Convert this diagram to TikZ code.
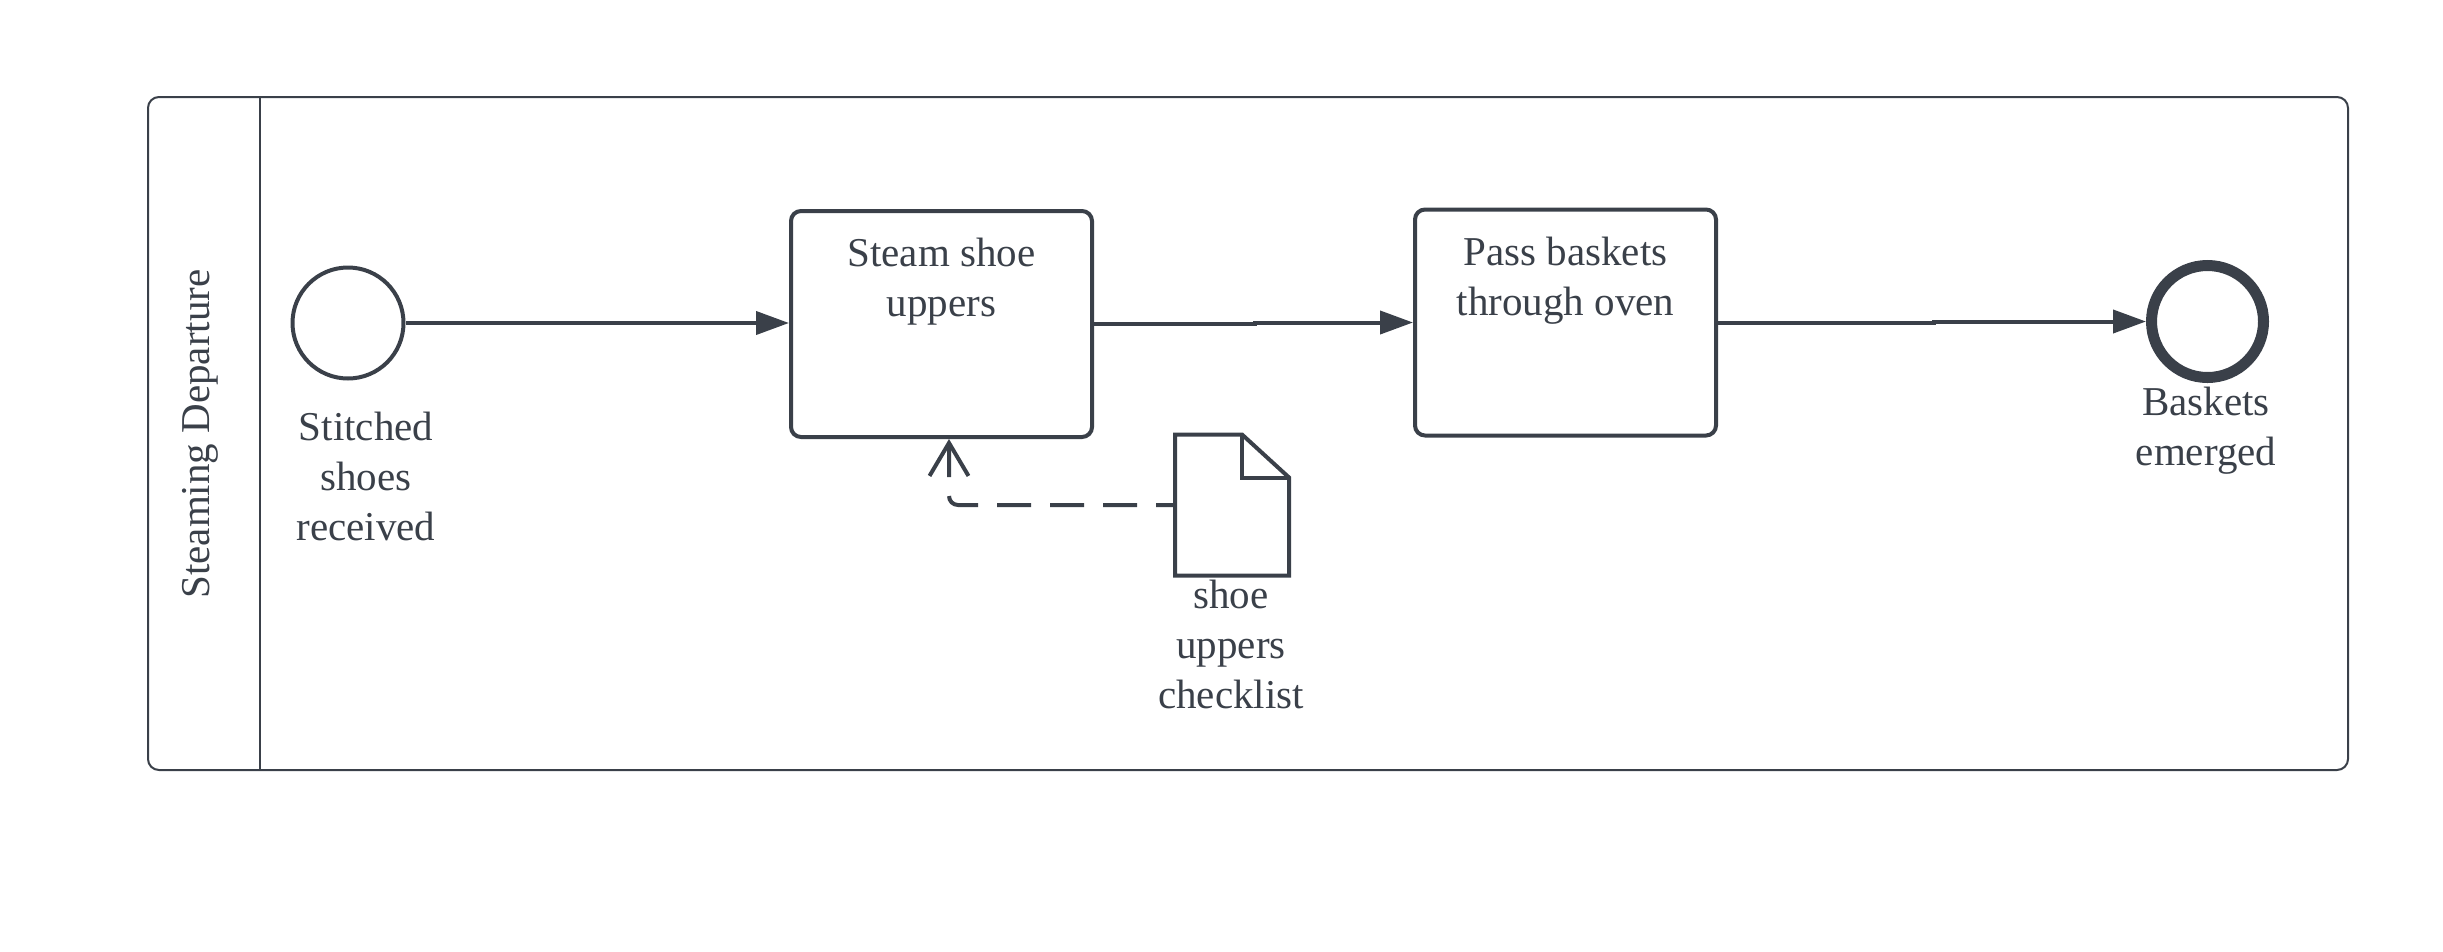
\documentclass[tikz,border=0pt]{standalone}
\usepackage{fontspec}
\setmainfont{Liberation Serif}
\usetikzlibrary{arrows.meta}
\definecolor{ink}{HTML}{3A4049}
\begin{document}
\begin{tikzpicture}[x=1pt,y=-1pt,
  lbl/.style={font=\fontsize{41}{50}\selectfont, text=ink, align=center, inner sep=0pt, anchor=north},
  task/.style={draw=ink, line width=4pt, rounded corners=10pt, minimum width=301pt, minimum height=226pt, inner sep=0pt},
  flow/.style={draw=ink, line width=4pt, -{Triangle[length=33pt,width=23pt]}},
  assoc/.style={draw=ink, line width=4pt, dash pattern=on 34pt off 19pt, dash phase=15pt, rounded corners=9pt, -{Straight Barb[length=33pt,width=39pt]}},
  startev/.style={circle, draw=ink, line width=4pt, minimum size=111pt, inner sep=0pt},
  endev/.style={circle, draw=ink, line width=11pt, minimum size=112pt, inner sep=0pt},
  docshape/.style={draw=ink, line width=4pt, line join=miter}
]
\useasboundingbox (0,0) rectangle (2443,951);
% pool
\node[draw=ink, line width=2pt, rounded corners=11pt, minimum width=2200pt, minimum height=673pt, inner sep=0pt] (pool) at (1248,433.5) {};
\draw[ink, line width=2pt] ([xshift=113pt]pool.north west) -- ([xshift=113pt]pool.south west);
\node[font=\fontsize{41}{50}\selectfont, text=ink, rotate=90, inner sep=0pt] (lane) at (200,434) {Steaming Departure};
% events and tasks
\node[startev] (start) at (348,323) {};
\node[lbl] (startlbl) at (366,410) {\rule{0pt}{30pt}Stitched\\shoes\\received};
\node[task] (t1) at (941.5,324) {};
\node[lbl] (t1lbl) at (941.5,236) {\rule{0pt}{30pt}Steam shoe\\uppers};
\node[task] (t2) at (1565.5,322.5) {};
\node[lbl] (t2lbl) at (1565.5,235) {\rule{0pt}{30pt}Pass baskets\\through oven};
\node[endev] (end) at (2207.5,321.5) {};
\node[lbl] (endlbl) at (2206,385) {\rule{0pt}{30pt}Baskets\\emerged};
% data object
\node[minimum width=114pt, minimum height=141pt, inner sep=0pt, outer sep=0pt] (doc) at (1232,505) {};
\draw[docshape] (doc.north west) -- ([xshift=-47pt]doc.north east) -- ([yshift=-43pt]doc.north east) -- (doc.south east) -- (doc.south west) -- cycle;
\draw[docshape] ([xshift=-47pt]doc.north east) -- ([xshift=-47pt,yshift=-43pt]doc.north east) -- ([yshift=-43pt]doc.north east);
\node[lbl] (doclbl) at (1231,578) {\rule{0pt}{30pt}shoe\\uppers\\checklist};
% jog coordinates
\coordinate (j1) at (1255,0);
\coordinate (j2) at (1934,0);
\coordinate (a1) at (949,0);
% flows
\draw[flow] (start.east) -- (t1.west |- start.east);
\draw[flow] (t1.east) -- (t1.east -| j1) |- (t2.west);
\draw[flow] (t2.east) -- (t2.east -| j2) |- (end.west);
\draw[assoc] (doc.west) -| (t1.south -| a1);
\end{tikzpicture}
\end{document}
